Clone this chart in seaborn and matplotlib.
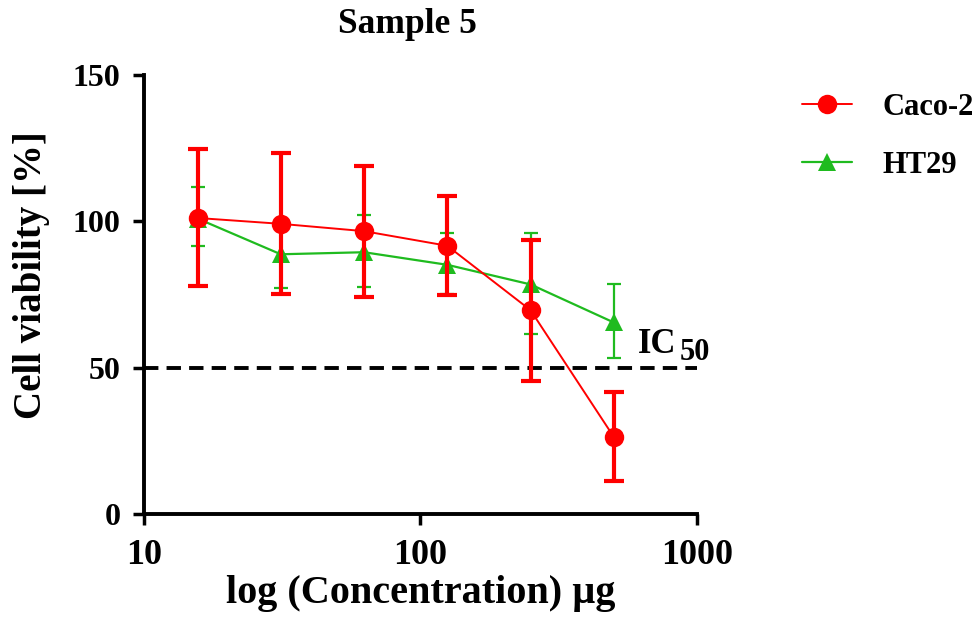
import matplotlib
matplotlib.use("Agg")
import matplotlib.pyplot as plt
import numpy as np
import pandas as pd
import seaborn as sns
from matplotlib.lines import Line2D

# concentrations (ug) and viability (%)
conc = [15.625, 31.25, 62.5, 125, 250, 500]
caco_mean = [101.2, 99.2, 96.7, 91.7, 69.7, 26.4]
caco_low = [78.0, 75.2, 74.2, 75.0, 45.4, 11.3]
caco_high = [124.7, 123.4, 119.0, 108.6, 93.8, 41.6]
ht29_mean = [101.0, 88.8, 89.5, 85.2, 78.5, 65.5]
ht29_low = [91.5, 77.4, 77.7, 75.2, 61.7, 53.2]
ht29_high = [111.7, 100.0, 102.3, 95.9, 95.9, 78.5]

sns.set_style("ticks")
plt.rcParams['font.family'] = ['Liberation Serif', 'DejaVu Serif']
plt.rcParams['font.weight'] = 'bold'
for k in ['text.color', 'axes.labelcolor', 'xtick.color', 'ytick.color', 'axes.edgecolor']:
    plt.rcParams[k] = 'black'

RED = '#ff0000'
GREEN = '#1fbb1f'

df = pd.DataFrame({
    'conc': conc * 2,
    'viability': caco_mean + ht29_mean,
    'cell': ['Caco-2'] * 6 + ['HT29'] * 6,
})

fig = plt.figure(figsize=(9.79, 6.21), dpi=100)
ax = fig.add_axes([0.147, 0.172, 0.565, 0.707])

# dashed IC50 line
ax.axhline(50, color='black', lw=2.8, ls=(0, (3.7, 2.1)), zorder=1)

# error bars
ax.errorbar(conc, ht29_mean,
            yerr=[np.array(ht29_mean) - np.array(ht29_low), np.array(ht29_high) - np.array(ht29_mean)],
            fmt='none', ecolor=GREEN, elinewidth=1.6, capsize=5, capthick=1.6, zorder=2)
ax.errorbar(conc, caco_mean,
            yerr=[np.array(caco_mean) - np.array(caco_low), np.array(caco_high) - np.array(caco_mean)],
            fmt='none', ecolor=RED, elinewidth=3, capsize=7, capthick=3, zorder=4)

# lines with markers
sns.lineplot(data=df[df.cell == 'HT29'], x='conc', y='viability', color=GREEN,
             marker='^', markersize=12.5, markeredgewidth=0, lw=1.6, ax=ax, zorder=3)
sns.lineplot(data=df[df.cell == 'Caco-2'], x='conc', y='viability', color=RED,
             marker='o', markersize=14, markeredgewidth=0, lw=1.4, ax=ax, zorder=5)

ax.set_xscale('log')
ax.set_xlim(10, 1000)
ax.set_ylim(0, 150)
ax.set_yticks([0, 50, 100, 150])
ax.set_xticks([10, 100, 1000])
ax.set_xticklabels(['10', '100', '1000'])
ax.xaxis.set_minor_locator(matplotlib.ticker.NullLocator())
ax.tick_params(axis='y', labelsize=23, width=2.5, length=8, pad=9)
ax.tick_params(axis='x', labelsize=26, width=2.5, length=8, pad=10)
for s in ['top', 'right']:
    ax.spines[s].set_visible(False)
for s in ['left', 'bottom']:
    ax.spines[s].set_linewidth(2.8)

ax.set_xlabel('log (Concentration) µg', fontsize=29, fontweight='bold', labelpad=2)
ax.set_ylabel('Cell viability [%]', fontsize=28, fontweight='bold')
ax.yaxis.set_label_coords(-0.17, 0.544)
fig.text(0.416, 0.947, 'Sample 5', ha='center', va='baseline', fontsize=25.5, fontweight='bold')

# IC50 label
ax.text(612, 55, 'IC', fontsize=25, fontweight='bold', ha='left', va='baseline')
ax.text(868, 52.6, '50', fontsize=22, fontweight='bold', ha='left', va='baseline')

handles = [
    Line2D([], [], color=RED, marker='o', markersize=14, markeredgewidth=0, lw=1.4),
    Line2D([], [], color=GREEN, marker='^', markersize=13, markeredgewidth=0, lw=1.6),
]
fig.legend(handles, ['Caco-2', 'HT29'], loc='upper left', bbox_to_anchor=(0.819, 0.850),
           frameon=False, fontsize=22, handlelength=1.64, handletextpad=1.0, labelspacing=0.93,
           borderpad=0, borderaxespad=0)

fig.savefig('out.png', dpi=100)
